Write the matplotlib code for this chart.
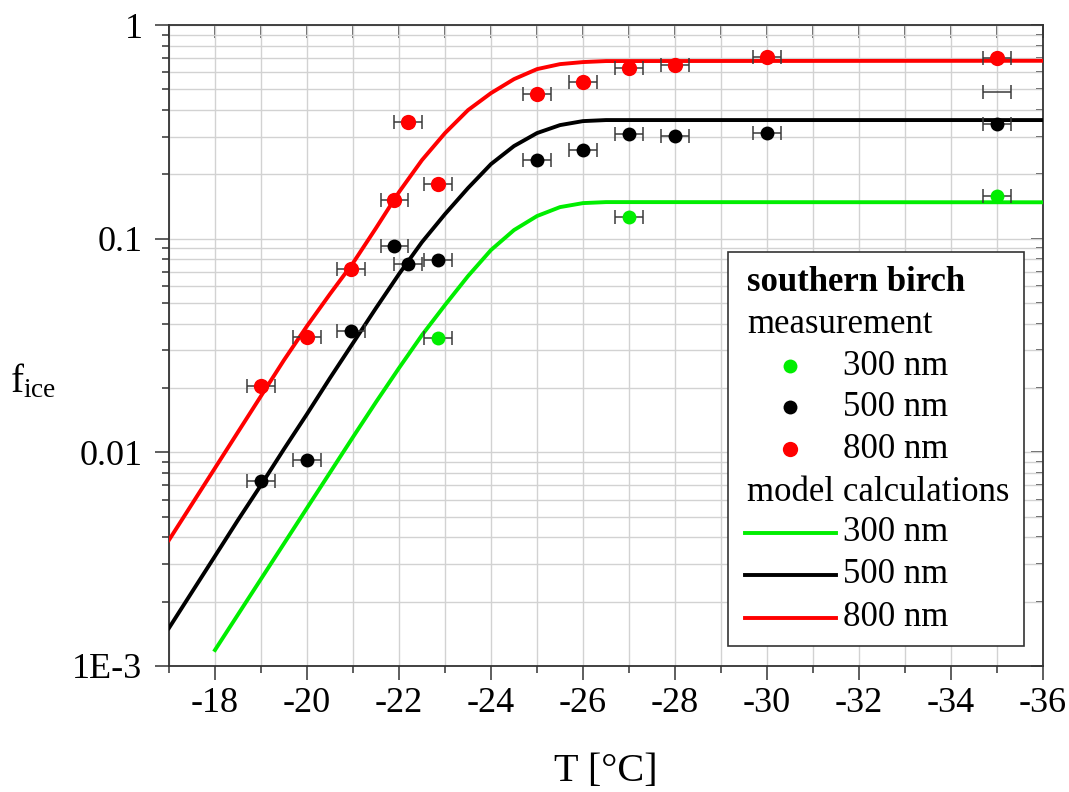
import matplotlib
matplotlib.use("Agg")
import matplotlib.pyplot as plt
from matplotlib.patches import Rectangle
from matplotlib.ticker import MultipleLocator, FixedLocator, FixedFormatter, LogLocator, NullFormatter

plt.rcParams['font.family'] = ['Liberation Serif', 'DejaVu Serif']
plt.rcParams['mathtext.default'] = 'regular'
plt.rcParams['axes.unicode_minus'] = False

t_300 = [-22.85, -27.0, -35.0]
f_300 = [0.0343, 0.126, 0.158]
t_500 = [-19.0, -20.0, -20.95, -21.9, -22.2, -22.85, -25.0, -26.0, -27.0, -28.0, -30.0, -35.0]
f_500 = [0.00734, 0.0092, 0.037, 0.0924, 0.076, 0.0794, 0.233, 0.260, 0.309, 0.302, 0.312, 0.344]
t_800 = [-19.0, -20.0, -20.95, -21.9, -22.2, -22.85, -25.0, -26.0, -27.0, -28.0, -30.0, -35.0]
f_800 = [0.0204, 0.0347, 0.0721, 0.152, 0.351, 0.180, 0.475, 0.541, 0.628, 0.649, 0.708, 0.700]
# lone error bar without a visible point
t_extra = [-35.0]
f_extra = [0.485]
t_err = 0.3

# model calculations
t_model = [-17, -17.5, -18, -18.5, -19, -19.5, -20, -20.5, -21, -21.5, -22, -22.5,
           -23, -23.5, -24, -24.5, -25, -25.5, -26, -26.5, -36]
m_500 = [0.001506, 0.00222, 0.00327, 0.004822, 0.00703, 0.01036, 0.01511, 0.02227,
         0.03246, 0.04733, 0.0683, 0.0964, 0.1303, 0.1725, 0.2234, 0.2713, 0.312,
         0.340, 0.355, 0.359, 0.359]
m_800 = [0.003888, 0.005729, 0.008443, 0.01245, 0.01835, 0.02703, 0.0390, 0.0551,
         0.0769, 0.1121, 0.1652, 0.2333, 0.312, 0.3996, 0.480, 0.558, 0.6216,
         0.656, 0.6706, 0.678, 0.680]
t_model_300 = [-18, -18.5, -19, -19.5, -20, -20.5, -21, -21.5, -22, -22.5, -23, -23.5,
               -24, -24.5, -25, -25.5, -26, -26.5, -36]
m_300 = [0.001188, 0.001742, 0.002554, 0.003742, 0.005488, 0.008042, 0.01179, 0.01719,
         0.0248, 0.03539, 0.0489, 0.0668, 0.0885, 0.1097, 0.1276, 0.1405, 0.1467,
         0.1483, 0.148]

sizes = ['300 nm', '500 nm', '800 nm']
colors = ['#00ee00', '#000000', '#ff0000']
y_ticks = [1e-3, 1e-2, 1e-1, 1]
y_labels = ['1E-3', '0.01', '0.1', '1']

fig = plt.figure(figsize=(10.69, 7.92), dpi=100)
ax = fig.add_axes([169 / 1069, 126 / 792, 874 / 1069, 641 / 792])
ax.set_yscale('log')
ax.set_xlim(-17, -36)
ax.set_ylim(1e-3, 1)

ax.grid(which='both', color='#d2d2d2', lw=1.0, zorder=0)
ax.set_axisbelow(True)

# model lines
ax.plot(t_model_300, m_300, color=colors[0], lw=2.8, zorder=3)
ax.plot(t_model, m_500, color=colors[1], lw=2.8, zorder=3)
ax.plot(t_model, m_800, color=colors[2], lw=2.8, zorder=3)

# error bars then points
err_kw = dict(fmt='none', ecolor='#3a3a3a', elinewidth=1.1, capsize=4.7, capthick=1.1, zorder=4)
for t, f in [(t_300, f_300), (t_500, f_500), (t_800, f_800), (t_extra, f_extra)]:
    ax.errorbar(t, f, xerr=t_err, **err_kw)
ms_small, ms_big = 10, 11
ax.plot(t_300, f_300, 'o', color=colors[0], ms=ms_small, mec='none', zorder=5)
ax.plot(t_500, f_500, 'o', color=colors[1], ms=ms_small, mec='none', zorder=5)
ax.plot(t_800, f_800, 'o', color=colors[2], ms=ms_big, mec='none', zorder=5)

# ticks
ax.xaxis.set_major_locator(MultipleLocator(2))
ax.xaxis.set_minor_locator(MultipleLocator(1))
ax.yaxis.set_major_locator(FixedLocator(y_ticks))
ax.yaxis.set_major_formatter(FixedFormatter(y_labels))
ax.yaxis.set_minor_locator(LogLocator(base=10, subs=range(2, 10)))
ax.yaxis.set_minor_formatter(NullFormatter())
ax.tick_params(which='major', direction='out', length=10, width=1.1, color='#333333',
               labelsize=26, pad=5)
ax.tick_params(which='minor', direction='out', length=5, width=1.1, color='#333333')
ax.tick_params(axis='y', which='major', pad=9)

for s in ax.spines.values():
    s.set_color('#333333')
    s.set_linewidth(1.3)

top = ax.secondary_xaxis('top')
top.xaxis.set_major_locator(MultipleLocator(1))
top.tick_params(direction='in', length=9, width=1.1, color='#333333', labeltop=False)
top.spines['top'].set_visible(False)
right = ax.secondary_yaxis('right')
right.yaxis.set_major_locator(FixedLocator(y_ticks))
right.yaxis.set_minor_locator(LogLocator(base=10, subs=range(2, 10)))
right.tick_params(which='major', direction='in', length=9, width=1.1, color='#333333', labelright=False)
right.tick_params(which='minor', direction='in', length=5, width=1.1, color='#333333', labelright=False)
right.spines['right'].set_visible(False)

ax.set_xlabel('T [°C]', fontsize=29, labelpad=24)
fig.text(10 / 1069, 1 - 382 / 792, '$f_{ice}$', fontsize=28, ha='left', va='center')

# legend box (Origin style)
ax.add_patch(Rectangle((0.6396, 0.0312), 0.3387, 0.6147, transform=ax.transAxes,
                       facecolor='white', edgecolor='#333333', lw=1.2, zorder=6))
tx = 0.6613
ax.text(tx, 0.599, 'southern birch', transform=ax.transAxes, fontsize=25,
        fontweight='bold', va='center', zorder=7)
ax.text(tx, 0.532, 'measurement', transform=ax.transAxes, fontsize=25, va='center', zorder=7)
ax.text(tx, 0.270, 'model calculations', transform=ax.transAxes, fontsize=25,
        va='center', zorder=7)
rows_pts = [0.468, 0.404, 0.3385]
rows_lines = [0.2075, 0.142, 0.0749]
msz = [ms_small, ms_small, ms_big]
for i in range(3):
    ax.plot([0.7105], [rows_pts[i]], 'o', color=colors[i], ms=msz[i], mec='none',
            transform=ax.transAxes, zorder=7, clip_on=False)
    ax.text(0.7712, rows_pts[i], sizes[i], transform=ax.transAxes, fontsize=25,
            va='center', zorder=7)
    ax.plot([0.659, 0.7632], [rows_lines[i], rows_lines[i]], color=colors[i], lw=2.8,
            transform=ax.transAxes, zorder=7, clip_on=False)
    ax.text(0.7712, rows_lines[i], sizes[i], transform=ax.transAxes, fontsize=25,
            va='center', zorder=7)

fig.savefig('out.png', dpi=100)
